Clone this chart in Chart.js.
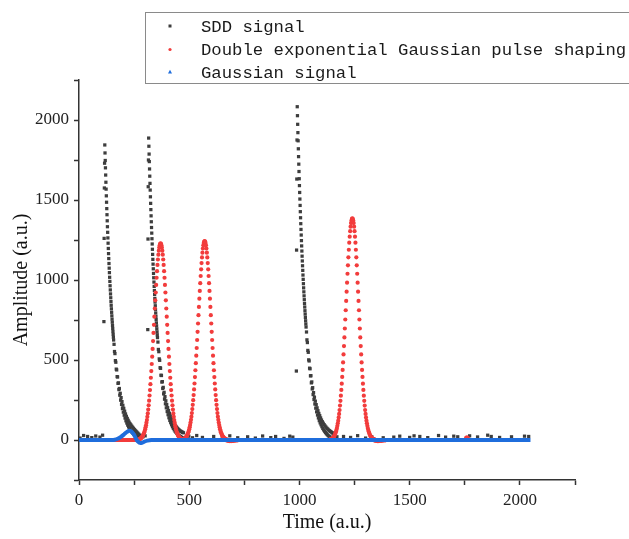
<!DOCTYPE html>
<html>
<head>
<meta charset="utf-8">
<script src="https://cdn.jsdelivr.net/npm/chart.js@4.4.1/dist/chart.umd.min.js"></script>
<style>
  html, body { margin: 0; padding: 0; background: #fff; }
  canvas { display: block; }
</style>
</head>
<body>
<canvas id="pulseChart" width="629" height="539"></canvas>
<script>
const seriesNames = ["SDD signal", "Double exponential Gaussian pulse shaping", "Gaussian signal"];
const timeTicks = [0, 500, 1000, 1500, 2000];
const ampTicks = [0, 500, 1000, 1500, 2000];

// SDD signal: leading-edge samples, then decays (1-unit head, 2-unit tail)
const sddRiseTimes = [113, 114, 115, 116, 312, 313, 314, 315, 986, 987, 988, 989];
const sddRiseValues = [740, 1260, 1575, 1730, 690, 1256, 1583, 1750, 431, 1187, 1631, 1875];
const sddPeakTimes = [117, 316, 990];

const sddHead1 = [1844, 1794, 1747, 1701, 1656, 1611, 1568, 1526, 1486, 1446, 1408, 1370, 1333, 1298, 1263, 1230, 1197, 1165, 1134, 1103, 1074, 1046, 1017, 991, 964, 938, 913, 889, 865, 842, 820, 798, 776, 755, 736, 715, 697, 678, 660, 642, 625];
const sddTail1 = [598, 553, 540, 496, 486, 443, 438, 396, 394, 354, 357, 315, 322, 280, 292, 249, 265, 222, 240, 196, 217, 174, 198, 155, 180, 137, 163, 120, 148, 106, 135, 93, 123, 82, 112, 72, 103, 62, 95, 55, 87, 48, 80, 42, 73, 36, 66, 30, 60, 26, 54, 22, 48, 18, 42, 16, 36, 14, 30, 12];

const sddHead2 = [1887, 1836, 1787, 1740, 1694, 1649, 1604, 1562, 1520, 1479, 1440, 1401, 1364, 1328, 1293, 1258, 1225, 1192, 1160, 1129, 1099, 1070, 1041, 1014, 987, 960, 934, 910, 885, 862, 839, 816, 794, 773, 753, 732, 713, 694, 675, 657, 640];
const sddTail2 = [612, 566, 552, 507, 498, 452, 448, 405, 403, 362, 365, 322, 329, 288, 298, 255, 271, 226, 245, 201, 222, 178, 202, 158, 184, 139, 167, 122, 151, 108, 138, 95, 125, 83, 114, 73, 104, 64, 96, 55, 88, 48, 81, 41, 74, 35, 68, 29, 63, 25, 58, 22, 54, 18, 51, 15, 48, 12, 45, 10];

const sddHead3 = [2083, 2027, 1973, 1921, 1870, 1820, 1771, 1724, 1678, 1633, 1590, 1547, 1506, 1466, 1427, 1389, 1352, 1316, 1281, 1246, 1213, 1181, 1149, 1119, 1089, 1060, 1031, 1004, 977, 951, 926, 901, 877, 853, 831, 808, 787, 766, 745, 725, 706];
const sddTail3 = [675, 626, 609, 560, 548, 501, 494, 449, 445, 401, 402, 357, 363, 319, 327, 284, 296, 253, 268, 225, 243, 199, 221, 176, 201, 156, 183, 138, 166, 121, 152, 107, 138, 95, 125, 83, 114, 72, 105, 63, 96, 55, 88, 47, 81, 40, 74, 34, 69, 28, 63, 24, 58, 20, 54, 16, 50, 14, 46, 12, 42, 10, 38, 8, 34];

const sddNoiseTimes = [5, 21, 39, 58, 76, 95, 107, 290, 300, 498, 515, 534, 560, 611, 650, 684, 720, 765, 800, 833, 870, 892, 930, 956, 970, 1170, 1200, 1232, 1264, 1300, 1328, 1380, 1428, 1455, 1500, 1520, 1546, 1582, 1631, 1663, 1700, 1718, 1772, 1808, 1854, 1870, 1908, 1962, 2021, 2040];
const sddNoiseValues = [12, 28, 22, 15, 25, 18, 30, 20, 26, 24, 14, 28, 16, 22, 12, 26, 14, 20, 12, 25, 15, 22, 10, 24, 18, 20, 22, 16, 27, 12, 21, 14, 18, 24, 16, 26, 22, 15, 28, 18, 24, 20, 26, 19, 30, 22, 16, 20, 24, 22];

// Shaped output: three Gaussian-like pulses sampled every 2 units
const shapedStarts = [270, 470, 1140];
const shaped1 = [3, 4, 5, 6, 8, 10, 12, 15, 19, 23, 27, 33, 40, 47, 56, 67, 79, 92, 108, 125, 145, 166, 190, 217, 246, 278, 312, 349, 389, 431, 475, 521, 569, 618, 669, 720, 771, 822, 873, 922, 969, 1014, 1055, 1094, 1128, 1158, 1183, 1203, 1217, 1226,
  1229,
  1226, 1217, 1203, 1183, 1158, 1128, 1094, 1055, 1014, 969, 922, 873, 822, 771, 720, 669, 618, 569, 521, 475, 431, 389, 349, 312, 278, 246, 217, 190, 166, 145, 125, 108, 92, 79, 67, 56, 47, 40, 33, 27, 23, 19, 15, 12, 10, 8, 6, 5, 4, 3];
const shaped2 = [3, 4, 5, 6, 8, 10, 12, 15, 19, 23, 28, 33, 40, 48, 57, 67, 80, 93, 109, 126, 146, 168, 193, 220, 249, 281, 316, 353, 393, 436, 480, 527, 575, 625, 676, 728, 780, 832, 883, 932, 980, 1025, 1067, 1106, 1141, 1171, 1197, 1217, 1231, 1240,
  1243,
  1240, 1231, 1217, 1197, 1171, 1141, 1106, 1067, 1025, 980, 932, 883, 832, 780, 728, 676, 625, 575, 527, 480, 436, 393, 353, 316, 281, 249, 220, 193, 168, 146, 126, 109, 93, 80, 67, 57, 48, 40, 33, 28, 23, 19, 15, 12, 10, 8, 6, 5, 4, 3];
const shaped3 = [4, 5, 5, 7, 9, 11, 14, 17, 21, 25, 31, 37, 45, 53, 64, 75, 89, 104, 121, 141, 163, 187, 215, 245, 277, 313, 352, 394, 438, 485, 535, 587, 641, 697, 753, 811, 869, 927, 983, 1039, 1092, 1142, 1189, 1233, 1271, 1305, 1333, 1356, 1372, 1382,
  1385,
  1382, 1372, 1356, 1333, 1305, 1271, 1233, 1189, 1142, 1092, 1039, 983, 927, 869, 811, 753, 697, 641, 587, 535, 485, 438, 394, 352, 313, 277, 245, 215, 187, 163, 141, 121, 104, 89, 75, 64, 53, 45, 37, 31, 25, 21, 17, 14, 11, 9, 7, 5, 5, 4];
const shapedBaseStart = 150;
const shapedBase = [0, 0, 0, 0, 0, 0, 0, 0, 0, 0, 0, 0, 0, 0, 0, 0, 0, 0, 0, 0, 0, 0, 0, 0, 0, 0, 0, 0, 0, 0];
const shapedUndershootStarts = [672, 1342];
const shapedUndershoot = [-4, -6, -7, -7, -6, -5, -4, -3, -2];
const shapedSpeckTimes = [1756, 1760, 1764];
const shapedSpeckValues = [14, 16, 12];

// Gaussian signal
const gaussTimes = [0, 150, 162, 175, 190, 205, 217, 227, 237, 247, 255, 262, 270, 277, 285, 295, 310, 328, 2048];
const gaussValues = [0, 0, 2, 8, 20, 36, 50, 58, 54, 38, 18, 0, -12, -18, -17, -11, -4, 0, 0];

const colors = { sdd: "#3d3d3d", shaped: "#f23c3c", gauss: "#1f6ddc" };

function run(t0, step, values) {
    return values.map((v, i) => ({ x: t0 + i * step, y: v }));
}
function pairs(times, values) {
    return times.map((t, i) => ({ x: t, y: values[i] }));
}

const sddData = [
    ...pairs(sddNoiseTimes, sddNoiseValues),
    ...pairs(sddRiseTimes, sddRiseValues),
    ...run(sddPeakTimes[0], 1, sddHead1), ...run(sddPeakTimes[0] + 42, 2, sddTail1),
    ...run(sddPeakTimes[1], 1, sddHead2), ...run(sddPeakTimes[1] + 42, 2, sddTail2),
    ...run(sddPeakTimes[2], 1, sddHead3), ...run(sddPeakTimes[2] + 42, 2, sddTail3),
];
const shapedData = [
    ...run(shapedBaseStart, 4, shapedBase),
    ...run(shapedStarts[0], 2, shaped1),
    ...run(shapedStarts[1], 2, shaped2),
    ...run(shapedStarts[2], 2, shaped3),
    ...run(shapedUndershootStarts[0], 6, shapedUndershoot),
    ...run(shapedUndershootStarts[1], 6, shapedUndershoot),
    ...pairs(shapedSpeckTimes, shapedSpeckValues),
];
const gaussData = pairs(gaussTimes, gaussValues);

const boxLegend = {
    id: "boxLegend",
    afterDraw(chart) {
        const ctx = chart.ctx;
        ctx.save();
        ctx.strokeStyle = "#8a8a8a";
        ctx.lineWidth = 1;
        ctx.strokeRect(145.5, 12.5, 560, 71);
        const rows = [26, 49.5, 72];
        const mx = 170;
        ctx.fillStyle = colors.sdd;
        ctx.fillRect(mx - 1.5, rows[0] - 1.5, 3, 3);
        ctx.fillStyle = colors.shaped;
        ctx.beginPath();
        ctx.arc(mx, rows[1], 1.6, 0, Math.PI * 2);
        ctx.fill();
        ctx.fillStyle = colors.gauss;
        ctx.beginPath();
        ctx.moveTo(mx, rows[2] - 2.2);
        ctx.lineTo(mx + 2, rows[2] + 1.5);
        ctx.lineTo(mx - 2, rows[2] + 1.5);
        ctx.closePath();
        ctx.fill();
        ctx.fillStyle = "#1a1a1a";
        ctx.font = "17.3px 'Liberation Mono', 'DejaVu Sans Mono', monospace";
        ctx.textBaseline = "middle";
        seriesNames.forEach((name, i) => ctx.fillText(name, 201, rows[i] + 1));
        ctx.restore();
    },
};

Chart.defaults.font.family = "'Liberation Serif', 'Times New Roman', serif";
Chart.defaults.color = "#222";

const axisCommon = {
    type: "linear",
    border: { display: true, color: "#333", width: 1.5 },
    grid: { display: true, drawOnChartArea: false, drawTicks: true, tickLength: 5, tickColor: "#333", tickWidth: 1.5 },
};

new Chart(document.getElementById("pulseChart"), {
    type: "scatter",
    data: {
        datasets: [
            {
                label: seriesNames[0],
                data: sddData,
                order: 3,
                pointStyle: "rect",
                pointRadius: 2.3,
                pointBorderWidth: 0,
                backgroundColor: colors.sdd,
                borderColor: colors.sdd,
            },
            {
                label: seriesNames[1],
                data: shapedData,
                order: 2,
                pointStyle: "circle",
                pointRadius: 2.1,
                pointBorderWidth: 0,
                backgroundColor: colors.shaped,
                borderColor: colors.shaped,
            },
            {
                label: seriesNames[2],
                data: gaussData,
                order: 1,
                showLine: true,
                borderWidth: 4,
                pointRadius: 0,
                borderColor: colors.gauss,
                backgroundColor: colors.gauss,
                tension: 0.3,
            },
        ],
    },
    options: {
        responsive: false,
        animation: false,
        layout: { padding: { left: 0, right: 54, top: 80, bottom: 0 } },
        plugins: { legend: { display: false }, tooltip: { enabled: false } },
        scales: {
            x: {
                ...axisCommon,
                min: 0,
                max: 2250,
                afterFit: (scale) => { scale.height = 59; },
                ticks: {
                    stepSize: 250,
                    padding: 5,
                    maxRotation: 0,
                    autoSkip: false,
                    font: { size: 17 },
                    callback: (v) => (timeTicks.includes(v) ? String(v) : ""),
                },
                title: { display: true, text: "Time (a.u.)", font: { size: 20 }, color: "#111", padding: { top: 0, bottom: 4 } },
            },
            y: {
                ...axisCommon,
                min: -250,
                max: 2250,
                afterFit: (scale) => { scale.width = 79; },
                ticks: {
                    stepSize: 250,
                    padding: 5,
                    autoSkip: false,
                    font: { size: 17 },
                    callback: (v) => (ampTicks.includes(v) ? String(v) : ""),
                },
                title: { display: true, text: "Amplitude (a.u.)", font: { size: 20 }, color: "#111", padding: { top: 10, bottom: 0 } },
            },
        },
    },
    plugins: [boxLegend],
});
</script>
</body>
</html>
